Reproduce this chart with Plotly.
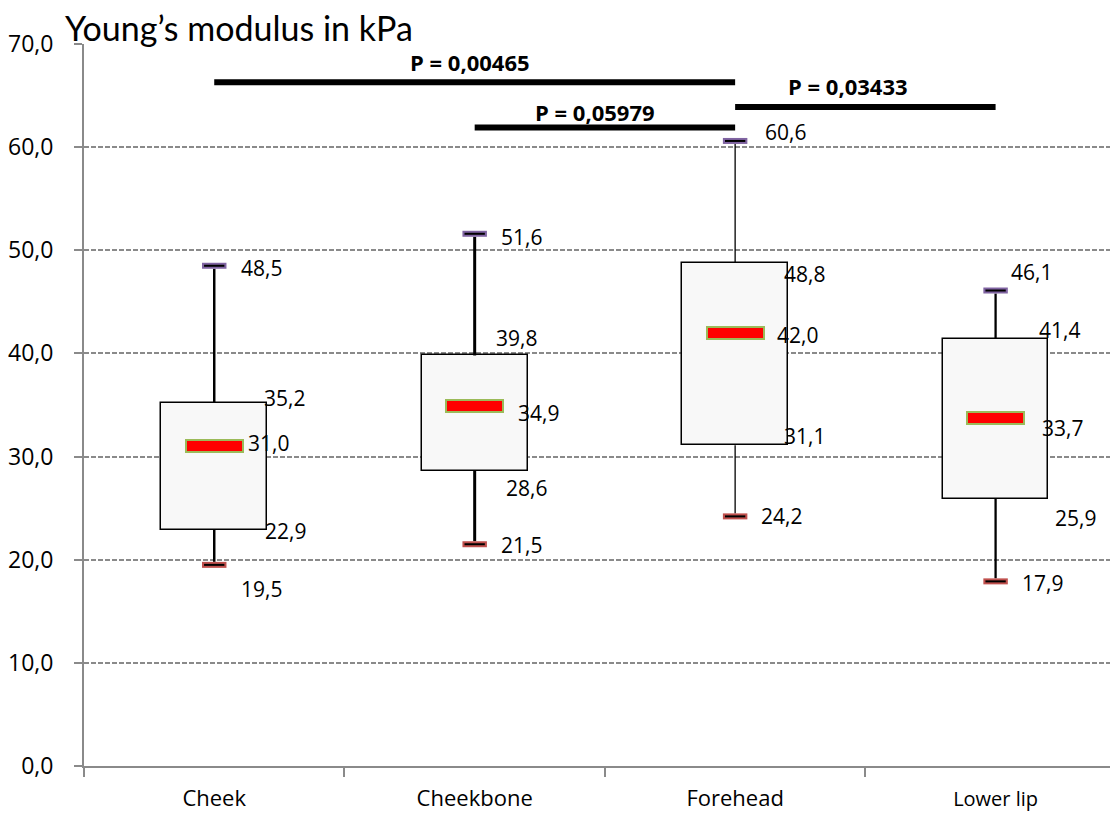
import plotly.graph_objects as go

# ---------------- data ----------------
categories = ["Cheek", "Cheekbone", "Forehead", "Lower lip"]
minimum = [19.5, 21.5, 24.2, 17.9]
q1 = [22.9, 28.6, 31.1, 25.9]
median = [31.0, 34.9, 42.0, 33.7]
q3 = [35.2, 39.8, 48.8, 41.4]
maximum = [48.5, 51.6, 60.6, 46.1]

comp_from = [0, 1, 2]
comp_to = [2, 2, 3]
p_values = [0.00465, 0.05979, 0.03433]

y_ticks = [0, 10, 20, 30, 40, 50, 60, 70]

# ---------------- style / layout ----------------
PAGE_OFF = 8  # default body margin of the html page
W, H = 1118 - PAGE_OFF, 819 - PAGE_OFF
ML, MR, MT, MB = 82 - PAGE_OFF, 0, 44 - PAGE_OFF, 53
Y_MAX = 70
px_per_unit = (H - MT - MB) / Y_MAX
def px(n):
    return n / px_per_unit

bracket_levels = [66.3, 61.9, 63.9]
bracket_label_dx = [-5, -10, -17]
bracket_label_dy = [20, 16, 21]

whisker_widths = [2.5, 3, 1.3, 2.3]
GRID = "#8a8a8a"
AXIS = "#8a8a8a"

# label offsets (dx px from category centre to label left, dy px downward)
label_offsets = {
    "max": [(25, 2), (24, 3), (28, -9), (13, -19)],
    "q3": [(48, -5), (19, -17), (47, 11), (41, -9)],
    "med": [(32, -3), (41, 7), (40, 2), (44, 10)],
    "q1": [(49, 1), (29, 17), (47, -9), (57, 19)],
    "min": [(25, 24), (24, 1), (24, 0), (24, 2)],
}

def fmt(v, d=1):
    return f"{v:.{d}f}".replace(".", ",")

idx = list(range(len(categories)))
fig = go.Figure()

# boxes
fig.add_trace(go.Bar(
    x=idx, y=[b - a for a, b in zip(q1, q3)], base=q1, width=0.406,
    marker=dict(color="#F8F8F8", line=dict(color="black", width=1.5)),
    hoverinfo="skip", showlegend=False))

# median markers
mh = px(12)
fig.add_trace(go.Bar(
    x=idx, y=[mh] * len(idx), base=[m - mh / 2 for m in median], width=0.218,
    marker=dict(color="#FF0000", line=dict(color="#9BBB59", width=2)),
    hoverinfo="skip", showlegend=False))

# whiskers
cap_half = px(3)
for i in idx:
    fig.add_trace(go.Scatter(
        x=[i, i], y=[q3[i], maximum[i] - cap_half], mode="lines",
        line=dict(color="black", width=whisker_widths[i]),
        hoverinfo="skip", showlegend=False))
    fig.add_trace(go.Scatter(
        x=[i, i], y=[q1[i], minimum[i] + cap_half], mode="lines",
        line=dict(color="black", width=whisker_widths[i]),
        hoverinfo="skip", showlegend=False))

# caps
cw = 0.047
for vals, col in ((maximum, "#8064A2"), (minimum, "#C0504D")):
    xs, ys, xs2, ys2 = [], [], [], []
    for i in idx:
        xs += [i - cw, i + cw, None]
        ys += [vals[i], vals[i], None]
        xs2 += [i - cw + 0.008, i + cw - 0.008, None]
        ys2 += [vals[i], vals[i], None]
    fig.add_trace(go.Scatter(x=xs, y=ys, mode="lines", line=dict(color=col, width=6),
                             hoverinfo="skip", showlegend=False))
    fig.add_trace(go.Scatter(x=xs2, y=ys2, mode="lines", line=dict(color="black", width=2),
                             hoverinfo="skip", showlegend=False))

# significance brackets
for k in range(len(p_values)):
    a, b = comp_from[k], comp_to[k]
    fig.add_trace(go.Scatter(
        x=[a, b], y=[bracket_levels[k]] * 2, mode="lines",
        line=dict(color="black", width=6), hoverinfo="skip", showlegend=False))

annotations = []
for k in range(len(p_values)):
    a, b = comp_from[k], comp_to[k]
    annotations.append(dict(
        x=(a + b) / 2, y=bracket_levels[k], xref="x", yref="y",
        text=f"P = {fmt(p_values[k], 5)}", showarrow=False,
        xanchor="center", yanchor="middle",
        xshift=bracket_label_dx[k], yshift=bracket_label_dy[k],
        font=dict(family="Open Sans", size=22, color="black", weight=700)))

series = {"max": maximum, "q3": q3, "med": median, "q1": q1, "min": minimum}
for key, vals in series.items():
    for i in idx:
        dx, dy = label_offsets[key][i]
        annotations.append(dict(
            x=i, y=vals[i], xref="x", yref="y", text=fmt(vals[i]),
            showarrow=False, xanchor="left", yanchor="middle",
            xshift=dx, yshift=-dy,
            font=dict(family="Open Sans", size=21, color="black")))

tick_text = [c if c != "Lower lip" else '<span style="font-size:20px">Lower lip</span>'
             for c in categories]

fig.update_layout(
    width=W, height=H,
    margin=dict(l=ML, r=MR, t=MT, b=MB),
    paper_bgcolor="white", plot_bgcolor="white",
    barmode="overlay", bargap=0,
    separators=",.",
    font=dict(family="Open Sans", color="black"),
    title=dict(text="Young\u2019s modulus in kPa", x=(65 - PAGE_OFF) / W, xanchor="left",
               xref="container", yref="container", y=1 - (29 - PAGE_OFF) / H,
               yanchor="middle",
               font=dict(family="Lato", size=34, color="black")),
    annotations=annotations,
    showlegend=False,
)

fig.update_xaxes(
    range=[-0.5, 3.47], tickvals=idx, ticktext=tick_text, ticks="",
    showgrid=False, zeroline=False,
    showline=True, linecolor=AXIS, linewidth=2,
    tickfont=dict(family="Open Sans", size=22, color="black"),
    ticklabelstandoff=12,
    minor=dict(tickvals=[-0.5, 0.5, 1.5, 2.5], ticks="outside", ticklen=9,
               tickcolor=AXIS, tickwidth=1.5, showgrid=False),
)
fig.update_yaxes(
    range=[0, Y_MAX], tickvals=y_ticks, tickformat=".1f",
    ticks="outside", ticklen=8, tickcolor=AXIS, tickwidth=1.5,
    showline=True, linecolor=AXIS, linewidth=2, zeroline=False,
    showgrid=True, gridcolor=GRID, gridwidth=1.5, griddash="5px,2px",
    tickfont=dict(family="Open Sans", size=23, color="black"),
    ticklabelstandoff=16,
)

fig.write_html("out.html")
